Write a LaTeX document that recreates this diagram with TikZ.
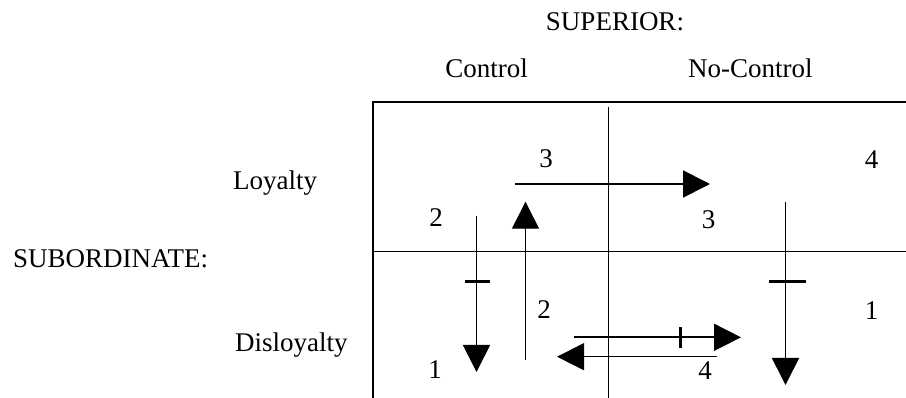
\documentclass[tikz,border=0pt]{standalone}
\usepackage{fontspec}
\setmainfont{Liberation Serif}
\usetikzlibrary{arrows.meta}
\tikzset{
  lbl/.style={inner sep=0pt, anchor=base, font=\fontsize{27}{32}\selectfont},
  lbll/.style={inner sep=0pt, anchor=base west, font=\fontsize{27}{32}\selectfont},
  grid/.style={line width=1.5pt},
  flow/.style={line width=1.7pt, -{Triangle[length=27pt,width=27pt]}},
  tick/.style={line width=3pt},
}
\begin{document}
\begin{tikzpicture}[x=1pt,y=-1pt]
\useasboundingbox (0,0) rectangle (906,398);
% headings
\node[lbl] (sup) at (615,31) {SUPERIOR:};
\node[lbl] (ctl) at (486.5,78) {Control};
\node[lbll] (nct) at (688,78) {No-Control};
\node[lbll] (sub) at (13,268) {SUBORDINATE:};
\node[lbll] (loy) at (233,190) {Loyalty};
\node[lbll] (dis) at (235,352) {Disloyalty};
% grid
\coordinate (tl) at (373,102.2);
\coordinate (tr) at (906,102.2);
\coordinate (bl) at (373,398);
\coordinate (ml) at (373,251.3);
\coordinate (mr) at (906,251.3);
\coordinate (vt) at (608.5,106.7);
\coordinate (vb) at (608.5,398);
\draw[grid] (bl) -- (tl) -- (tr);
\draw[grid] (ml) -- (mr);
\draw[grid] (vt) -- (vb);
% numbers
\node[lbl] (n3a) at (546,168) {3};
\node[lbl] (n2a) at (436,227) {2};
\node[lbl] (n1a) at (435,378) {1};
\node[lbl] (n2b) at (544,319) {2};
\node[lbl] (n3b) at (708.5,229) {3};
\node[lbl] (n4a) at (871.5,169) {4};
\node[lbl] (n1b) at (871.5,320) {1};
\node[lbl] (n4b) at (705,380) {4};
% arrows
\coordinate (a1s) at (515,184); \coordinate (a1e) at (710,184);
\draw[flow] (a1s) -- (a1e);
\coordinate (a2s) at (476.5,216); \coordinate (a2e) at (476.5,372);
\draw[flow] (a2s) -- (a2e);
\coordinate (a3s) at (525.5,360); \coordinate (a3e) at (525.5,201.7);
\draw[flow, line width=1.3pt] (a3s) -- (a3e);
\coordinate (a4s) at (785.5,201.7); \coordinate (a4e) at (785.5,385);
\draw[flow] (a4s) -- (a4e);
\coordinate (a5s) at (573.5,337.3); \coordinate (a5e) at (741,337.3);
\draw[flow] (a5s) -- (a5e);
\coordinate (a6s) at (717,356.7); \coordinate (a6e) at (557,356.7);
\draw[flow, line width=1.4pt] (a6s) -- (a6e);
% ticks
\coordinate (t1a) at (465,281.7); \coordinate (t1b) at (490,281.7);
\draw[tick] (t1a) -- (t1b);
\coordinate (t2a) at (769,281.7); \coordinate (t2b) at (806,281.7);
\draw[tick] (t2a) -- (t2b);
\coordinate (t3a) at (680.5,327.3); \coordinate (t3b) at (680.5,348.3);
\draw[tick] (t3a) -- (t3b);
\end{tikzpicture}
\end{document}
